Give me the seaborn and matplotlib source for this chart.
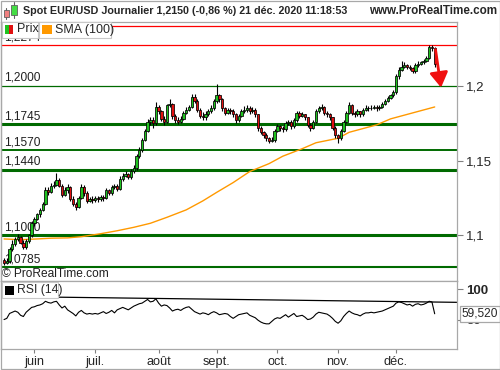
import numpy as np
import pandas as pd
import matplotlib
matplotlib.use('Agg')
import matplotlib.pyplot as plt
from matplotlib.patches import Rectangle
import seaborn as sns

# ---- data (EUR/USD daily) ----
dates = pd.bdate_range('2020-05-15', '2020-12-21')

opens = [
    1.0835, 1.0815, 1.0825, 1.0910, 1.0940, 1.0975, 1.0985, 1.0950, 1.0920, 1.0960,
    1.1000, 1.1080, 1.1110, 1.1140, 1.1170, 1.1210, 1.1300, 1.1290, 1.1330, 1.1340,
    1.1370, 1.1330, 1.1270, 1.1300, 1.1320, 1.1240, 1.1210, 1.1190, 1.1250, 1.1320,
    1.1280, 1.1230, 1.1240, 1.1235, 1.1250, 1.1240, 1.1255, 1.1250, 1.1300, 1.1280,
    1.1320, 1.1330, 1.1310, 1.1380, 1.1400, 1.1410, 1.1390, 1.1430, 1.1450, 1.1530,
    1.1570, 1.1640, 1.1700, 1.1760, 1.1770, 1.1750, 1.1860, 1.1830, 1.1780, 1.1760,
    1.1870, 1.1880, 1.1800, 1.1770, 1.1760, 1.1780, 1.1820, 1.1840, 1.1860, 1.1930,
    1.1900, 1.1840, 1.1800, 1.1790, 1.1810, 1.1830, 1.1850, 1.1900, 1.1940, 1.1910,
    1.1850, 1.1820, 1.1840, 1.1830, 1.1810, 1.1770, 1.1800, 1.1830, 1.1840, 1.1850,
    1.1830, 1.1840, 1.1810, 1.1720, 1.1690, 1.1670, 1.1650, 1.1630, 1.1640, 1.1700,
    1.1730, 1.1720, 1.1710, 1.1750, 1.1760, 1.1730, 1.1770, 1.1820, 1.1800, 1.1810,
    1.1790, 1.1740, 1.1720, 1.1760, 1.1830, 1.1850, 1.1860, 1.1820, 1.1810, 1.1790,
    1.1720, 1.1670, 1.1650, 1.1700, 1.1760, 1.1820, 1.1870, 1.1820, 1.1810, 1.1830,
    1.1810, 1.1840, 1.1855, 1.1850, 1.1855, 1.1860, 1.1850, 1.1860, 1.1880, 1.1900,
    1.1920, 1.1940, 1.1960, 1.2070, 1.2110, 1.2130, 1.2140, 1.2130, 1.2120, 1.2100,
    1.2140, 1.2150, 1.2160, 1.2170, 1.2190, 1.2260, 1.2255]

highs = [
    1.0845, 1.0845, 1.0920, 1.0965, 1.0990, 1.1010, 1.0995, 1.0965, 1.0975, 1.1010,
    1.1095, 1.1125, 1.1150, 1.1180, 1.1225, 1.1320, 1.1320, 1.1350, 1.1365, 1.1420,
    1.1385, 1.1345, 1.1320, 1.1345, 1.1330, 1.1260, 1.1225, 1.1265, 1.1345, 1.1335,
    1.1295, 1.1255, 1.1260, 1.1265, 1.1265, 1.1270, 1.1270, 1.1315, 1.1310, 1.1335,
    1.1345, 1.1345, 1.1395, 1.1420, 1.1430, 1.1420, 1.1445, 1.1470, 1.1545, 1.1590,
    1.1655, 1.1715, 1.1780, 1.1790, 1.1790, 1.1890, 1.1870, 1.1840, 1.1800, 1.1880,
    1.1915, 1.1885, 1.1815, 1.1790, 1.1800, 1.1835, 1.1860, 1.1875, 1.1950, 1.1950,
    1.1910, 1.1850, 1.1825, 1.1830, 1.1845, 1.1870, 1.1915, 1.2013, 1.1950, 1.1920,
    1.1860, 1.1855, 1.1850, 1.1845, 1.1820, 1.1815, 1.1845, 1.1865, 1.1870, 1.1865,
    1.1860, 1.1850, 1.1815, 1.1735, 1.1700, 1.1685, 1.1660, 1.1660, 1.1710, 1.1745,
    1.1740, 1.1735, 1.1765, 1.1775, 1.1770, 1.1785, 1.1835, 1.1830, 1.1825, 1.1815,
    1.1795, 1.1750, 1.1770, 1.1845, 1.1865, 1.1880, 1.1865, 1.1835, 1.1820, 1.1795,
    1.1730, 1.1680, 1.1710, 1.1775, 1.1835, 1.1890, 1.1880, 1.1830, 1.1845, 1.1835,
    1.1850, 1.1870, 1.1865, 1.1870, 1.1875, 1.1870, 1.1870, 1.1890, 1.1910, 1.1935,
    1.1950, 1.1975, 1.2080, 1.2125, 1.2165, 1.2160, 1.2150, 1.2140, 1.2125, 1.2155,
    1.2165, 1.2170, 1.2180, 1.2200, 1.2275, 1.2274, 1.2260]

lows = [
    1.0800, 1.0805, 1.0815, 1.0895, 1.0925, 1.0960, 1.0940, 1.0905, 1.0910, 1.0950,
    1.0990, 1.1065, 1.1100, 1.1125, 1.1160, 1.1200, 1.1270, 1.1280, 1.1315, 1.1330,
    1.1320, 1.1255, 1.1260, 1.1285, 1.1230, 1.1195, 1.1170, 1.1185, 1.1245, 1.1260,
    1.1215, 1.1220, 1.1215, 1.1225, 1.1225, 1.1230, 1.1230, 1.1240, 1.1270, 1.1270,
    1.1310, 1.1295, 1.1300, 1.1365, 1.1390, 1.1375, 1.1380, 1.1420, 1.1440, 1.1520,
    1.1560, 1.1630, 1.1690, 1.1740, 1.1720, 1.1740, 1.1815, 1.1765, 1.1740, 1.1755,
    1.1860, 1.1780, 1.1755, 1.1745, 1.1750, 1.1770, 1.1810, 1.1830, 1.1850, 1.1885,
    1.1825, 1.1785, 1.1770, 1.1775, 1.1800, 1.1820, 1.1840, 1.1885, 1.1895, 1.1835,
    1.1805, 1.1810, 1.1815, 1.1790, 1.1755, 1.1760, 1.1790, 1.1820, 1.1825, 1.1815,
    1.1820, 1.1790, 1.1700, 1.1680, 1.1650, 1.1635, 1.1615, 1.1625, 1.1625, 1.1690,
    1.1700, 1.1690, 1.1700, 1.1740, 1.1715, 1.1720, 1.1760, 1.1785, 1.1790, 1.1775,
    1.1725, 1.1700, 1.1710, 1.1750, 1.1820, 1.1840, 1.1805, 1.1795, 1.1775, 1.1705,
    1.1650, 1.1620, 1.1640, 1.1690, 1.1750, 1.1810, 1.1805, 1.1795, 1.1800, 1.1795,
    1.1800, 1.1830, 1.1835, 1.1840, 1.1845, 1.1835, 1.1840, 1.1850, 1.1870, 1.1890,
    1.1910, 1.1930, 1.1950, 1.2050, 1.2100, 1.2120, 1.2115, 1.2105, 1.2085, 1.2090,
    1.2130, 1.2140, 1.2150, 1.2160, 1.2180, 1.2235, 1.2130]

closes = [
    1.0815, 1.0825, 1.0910, 1.0940, 1.0975, 1.0985, 1.0950, 1.0920, 1.0960, 1.1000,
    1.1080, 1.1110, 1.1140, 1.1170, 1.1210, 1.1300, 1.1290, 1.1330, 1.1340, 1.1370,
    1.1330, 1.1270, 1.1300, 1.1320, 1.1240, 1.1210, 1.1190, 1.1250, 1.1320, 1.1280,
    1.1230, 1.1240, 1.1235, 1.1250, 1.1240, 1.1255, 1.1250, 1.1300, 1.1280, 1.1320,
    1.1330, 1.1310, 1.1380, 1.1400, 1.1410, 1.1390, 1.1430, 1.1450, 1.1530, 1.1570,
    1.1640, 1.1700, 1.1760, 1.1770, 1.1750, 1.1860, 1.1830, 1.1780, 1.1760, 1.1870,
    1.1880, 1.1800, 1.1770, 1.1760, 1.1780, 1.1820, 1.1840, 1.1860, 1.1930, 1.1900,
    1.1840, 1.1800, 1.1790, 1.1810, 1.1830, 1.1850, 1.1900, 1.1940, 1.1910, 1.1850,
    1.1820, 1.1840, 1.1830, 1.1810, 1.1770, 1.1800, 1.1830, 1.1840, 1.1850, 1.1830,
    1.1840, 1.1810, 1.1720, 1.1690, 1.1670, 1.1650, 1.1630, 1.1640, 1.1700, 1.1730,
    1.1720, 1.1710, 1.1750, 1.1760, 1.1730, 1.1770, 1.1820, 1.1800, 1.1810, 1.1790,
    1.1740, 1.1720, 1.1760, 1.1830, 1.1850, 1.1860, 1.1820, 1.1810, 1.1790, 1.1720,
    1.1670, 1.1650, 1.1700, 1.1760, 1.1820, 1.1870, 1.1820, 1.1810, 1.1830, 1.1810,
    1.1840, 1.1855, 1.1850, 1.1855, 1.1860, 1.1850, 1.1860, 1.1880, 1.1900, 1.1920,
    1.1940, 1.1960, 1.2070, 1.2110, 1.2130, 1.2140, 1.2130, 1.2120, 1.2100, 1.2140,
    1.2150, 1.2160, 1.2170, 1.2190, 1.2260, 1.2255, 1.2150]

# SMA(100) sampled along the curve (bar number, value)
sma_bars = [0, 6, 12, 17, 23, 28, 35, 41, 47, 53, 59, 66, 72, 77, 83, 89,
            96, 101, 108, 113, 121, 125, 135, 140, 150, 156]
sma_vals = [1.0975, 1.0970, 1.0975, 1.0980, 1.0982, 1.0990, 1.1010, 1.1030,
            1.1053, 1.1080, 1.1120, 1.1170, 1.1230, 1.1287, 1.1353, 1.1427,
            1.1480, 1.1530, 1.1580, 1.1620, 1.1650, 1.1690, 1.1740, 1.1780,
            1.1830, 1.1860]

rsi = [
    50, 52, 60, 62, 64, 62, 57, 55, 62, 66,
    70, 71, 73, 74, 76, 80, 78, 77, 79, 80,
    74, 69, 72, 66, 63, 60, 56, 62, 65, 61,
    59, 60, 59, 60, 59, 61, 63, 60, 62, 65,
    61, 66, 68, 70, 68, 66, 69, 72, 74, 76,
    77, 80, 83, 79, 80, 84, 77, 72, 74, 73,
    69, 64, 66, 67, 65, 68, 70, 71, 67, 63,
    61, 59, 61, 60, 58, 61, 63, 61, 58, 59,
    60, 59, 55, 52, 55, 58, 59, 60, 61, 57,
    55, 53, 49, 46, 44, 43, 43, 47, 51, 53,
    52, 55, 58, 54, 57, 60, 55, 56, 57, 54,
    50, 51, 54, 59, 62, 61, 60, 59, 56, 52,
    47, 44, 48, 55, 60, 64, 61, 59, 58, 56,
    59, 61, 61, 62, 61, 62, 63, 64, 66, 68,
    70, 72, 77, 79, 78, 76, 74, 75, 72, 75,
    76, 74, 75, 77, 80, 79, 59.52]

# trend line drawn on the RSI (bar, value)
rsi_trend_bars = [0, 164]
rsi_trend_vals = [87.9, 78.3]

# support / resistance levels
green_levels = [1.2000, 1.1745, 1.1570, 1.1440, 1.1000, 1.0785]
green_widths = [0.9, 2.2, 1.4, 2.2, 2.2, 1.5]
red_levels = [1.2274, 1.2400]
level_labels = ['1,2274', '1,2000', '1,1745', '1,1570', '1,1440', '1,1000', '1,0785']
label_levels = [1.2274, 1.2000, 1.1745, 1.1570, 1.1440, 1.1000, 1.0785]

price_ticks = [1.1, 1.15, 1.2]
month_labels = ['juin', 'juil.', 'août', 'sept.', 'oct.', 'nov.', 'déc.']
month_numbers = [6, 7, 8, 9, 10, 11, 12]

# arrow drawn by the analyst (bar, price)
arrow_from = (156.3, 1.2245)
arrow_to = (158.3, 1.1990)

title = 'Spot EUR/USD Journalier 1,2150 (-0,86 %) 21 déc. 2020 11:18:53'

# ---- figure ----
sns.set_style('white')
plt.rcParams['font.family'] = ['Liberation Sans', 'DejaVu Sans']

W, H = 500, 370
fig = plt.figure(figsize=(5, 3.7), dpi=100)
GRAY = '#a8a8a8'
GREEN = '#006a00'
UP = '#1fc21f'
DOWN = '#e01010'


def fx(px):
    return px / W


def fy(py):
    return 1 - py / H


df = pd.DataFrame({'date': dates, 'open': opens, 'high': highs,
                   'low': lows, 'close': closes, 'rsi': rsi})
df['bar'] = np.arange(len(df))
up = df['close'] >= df['open']

x_lo, x_hi = -1.1, 163.9

# main price panel
ax = fig.add_axes([fx(1), fy(281), fx(455.5), (281 - 21.5) / H])
for lvl, lw in zip(green_levels, green_widths):
    ax.axhline(lvl, color=GREEN, lw=lw, zorder=1)
for lvl in red_levels:
    ax.axhline(lvl, color='red', lw=0.9, zorder=1)
for lbl, lvl in zip(level_labels, label_levels):
    ax.annotate(lbl, xy=(0, lvl), xycoords=('axes fraction', 'data'),
                xytext=(2.5, 1.5), textcoords='offset points',
                fontsize=8.6, va='bottom', ha='left', color='#202020', zorder=2)

sns.lineplot(x=sma_bars, y=sma_vals, ax=ax, color='#ff9900', lw=1.0, zorder=3)

ax.vlines(df['bar'], df['low'], df['high'], color='black', lw=0.8, zorder=4)
ax.bar(df.loc[up, 'bar'], (df['close'] - df['open'])[up], bottom=df.loc[up, 'open'],
       width=0.85, color=UP, edgecolor='black', lw=0.55, zorder=5)
ax.bar(df.loc[~up, 'bar'], (df['close'] - df['open'])[~up], bottom=df.loc[~up, 'open'],
       width=0.85, color=DOWN, edgecolor='black', lw=0.55, zorder=5)

ax.annotate('', xy=arrow_to, xytext=arrow_from,
            arrowprops=dict(arrowstyle='-|>,head_length=0.9,head_width=0.55',
                            color='#f01010', lw=2.0, shrinkA=0, shrinkB=0), zorder=6)

ax.set_xlim(x_lo, x_hi)
ax.set_ylim(1.0693, 1.2433)
ax.set_xticks([])
ax.yaxis.tick_right()
ax.set_yticks(price_ticks)
ax.set_yticklabels([f'{v:g}'.replace('.', ',') for v in price_ticks])
ax.tick_params(axis='y', length=4, width=0.8, color='#808080', labelsize=9.5, pad=3)
for s in ax.spines.values():
    s.set_color(GRAY)
    s.set_linewidth(0.9)
ax.set_xlabel('')
ax.set_ylabel('')
ax.text(0.003, 0.004, '© ProRealTime.com', transform=ax.transAxes,
        fontsize=8.6, ha='left', va='bottom', color='#202020')

# RSI panel
ax2 = fig.add_axes([fx(1), fy(349), fx(455.5), (349 - 281) / H])
sns.lineplot(x=rsi_trend_bars, y=rsi_trend_vals, ax=ax2, color='black', lw=0.9)
sns.lineplot(data=df, x='bar', y='rsi', ax=ax2, color='black', lw=0.8)
ax2.set_xlim(x_lo, x_hi)
ax2.set_ylim(1.7, 113.3)
ax2.yaxis.tick_right()
ax2.set_yticks([50, 100])
ax2.set_yticklabels(['50', '100'])
ax2.tick_params(axis='y', length=4, width=0.8, color='#808080', labelsize=9.5, pad=3)
ax2.get_yticklabels()[1].set_fontweight('bold')
first_bars = [int(df.loc[df['date'].dt.month == m, 'bar'].iloc[0]) for m in month_numbers]
ax2.set_xticks(first_bars)
ax2.set_xticklabels(month_labels)
ax2.tick_params(axis='x', length=3, width=0.8, color='#808080', labelsize=9.2, pad=2,
                bottom=True)
for s in ax2.spines.values():
    s.set_color(GRAY)
    s.set_linewidth(0.9)
ax2.set_xlabel('')
ax2.set_ylabel('')
ax2.text(1.012, rsi[-1], f'{rsi[-1]:.3f}'.replace('.', ','),
         transform=ax2.get_yaxis_transform(), fontsize=8.6, ha='left', va='center',
         bbox=dict(boxstyle='square,pad=0.15', fc='white', ec=GRAY, lw=0.9), zorder=10)

# title bar
fig.text(fx(23), fy(11), title, fontsize=7.75, fontweight='bold', ha='left', va='center')
fig.text(fx(497), fy(11), 'www.ProRealTime.com', fontsize=8.4, fontweight='bold',
         ha='right', va='center')


def box(x0, y0, x1, y1, fc, ec, lw=0.6, z=20):
    fig.add_artist(Rectangle((fx(x0), fy(y1)), fx(x1 - x0), (y1 - y0) / H,
                             transform=fig.transFigure, fc=fc, ec=ec, lw=lw, zorder=z))


# title icon: two candles
fig.add_artist(plt.Line2D([fx(6), fx(6)], [fy(8), fy(19)], color='#606060', lw=0.8))
box(3.5, 10, 8.5, 17, '#f08080', '#606060')
fig.add_artist(plt.Line2D([fx(14), fx(14)], [fy(2), fy(18)], color='#606060', lw=0.8))
box(11, 5, 16.5, 15, '#44dd44', '#606060')

# legend boxes
box(1.5, 21.5, 38, 37.5, 'white', '#c8c8c8', lw=0.8)
box(4.5, 25, 8.5, 34, UP, 'none', z=21)
box(8.5, 25, 12.5, 34, DOWN, 'none', z=21)
fig.text(fx(16.5), fy(29.5), 'Prix', fontsize=9, va='center', ha='left', zorder=22)
box(39, 21.5, 111, 37.5, 'white', '#c8c8c8', lw=0.8)
box(42, 25, 52, 34, '#ff9900', 'none', z=21)
fig.text(fx(55), fy(29.5), 'SMA (100)', fontsize=9, va='center', ha='left', zorder=22)

box(1.5, 282, 58, 298, 'white', '#c8c8c8', lw=0.8)
box(5, 285.5, 14, 294.5, 'black', 'none', z=21)
fig.text(fx(17), fy(290), 'RSI (14)', fontsize=8.8, va='center', ha='left', zorder=22)

# outer frame
box(0.5, 0.5, 499.5, 368.5, 'none', GRAY, lw=0.9, z=30)

fig.savefig('out.png', dpi=100)
